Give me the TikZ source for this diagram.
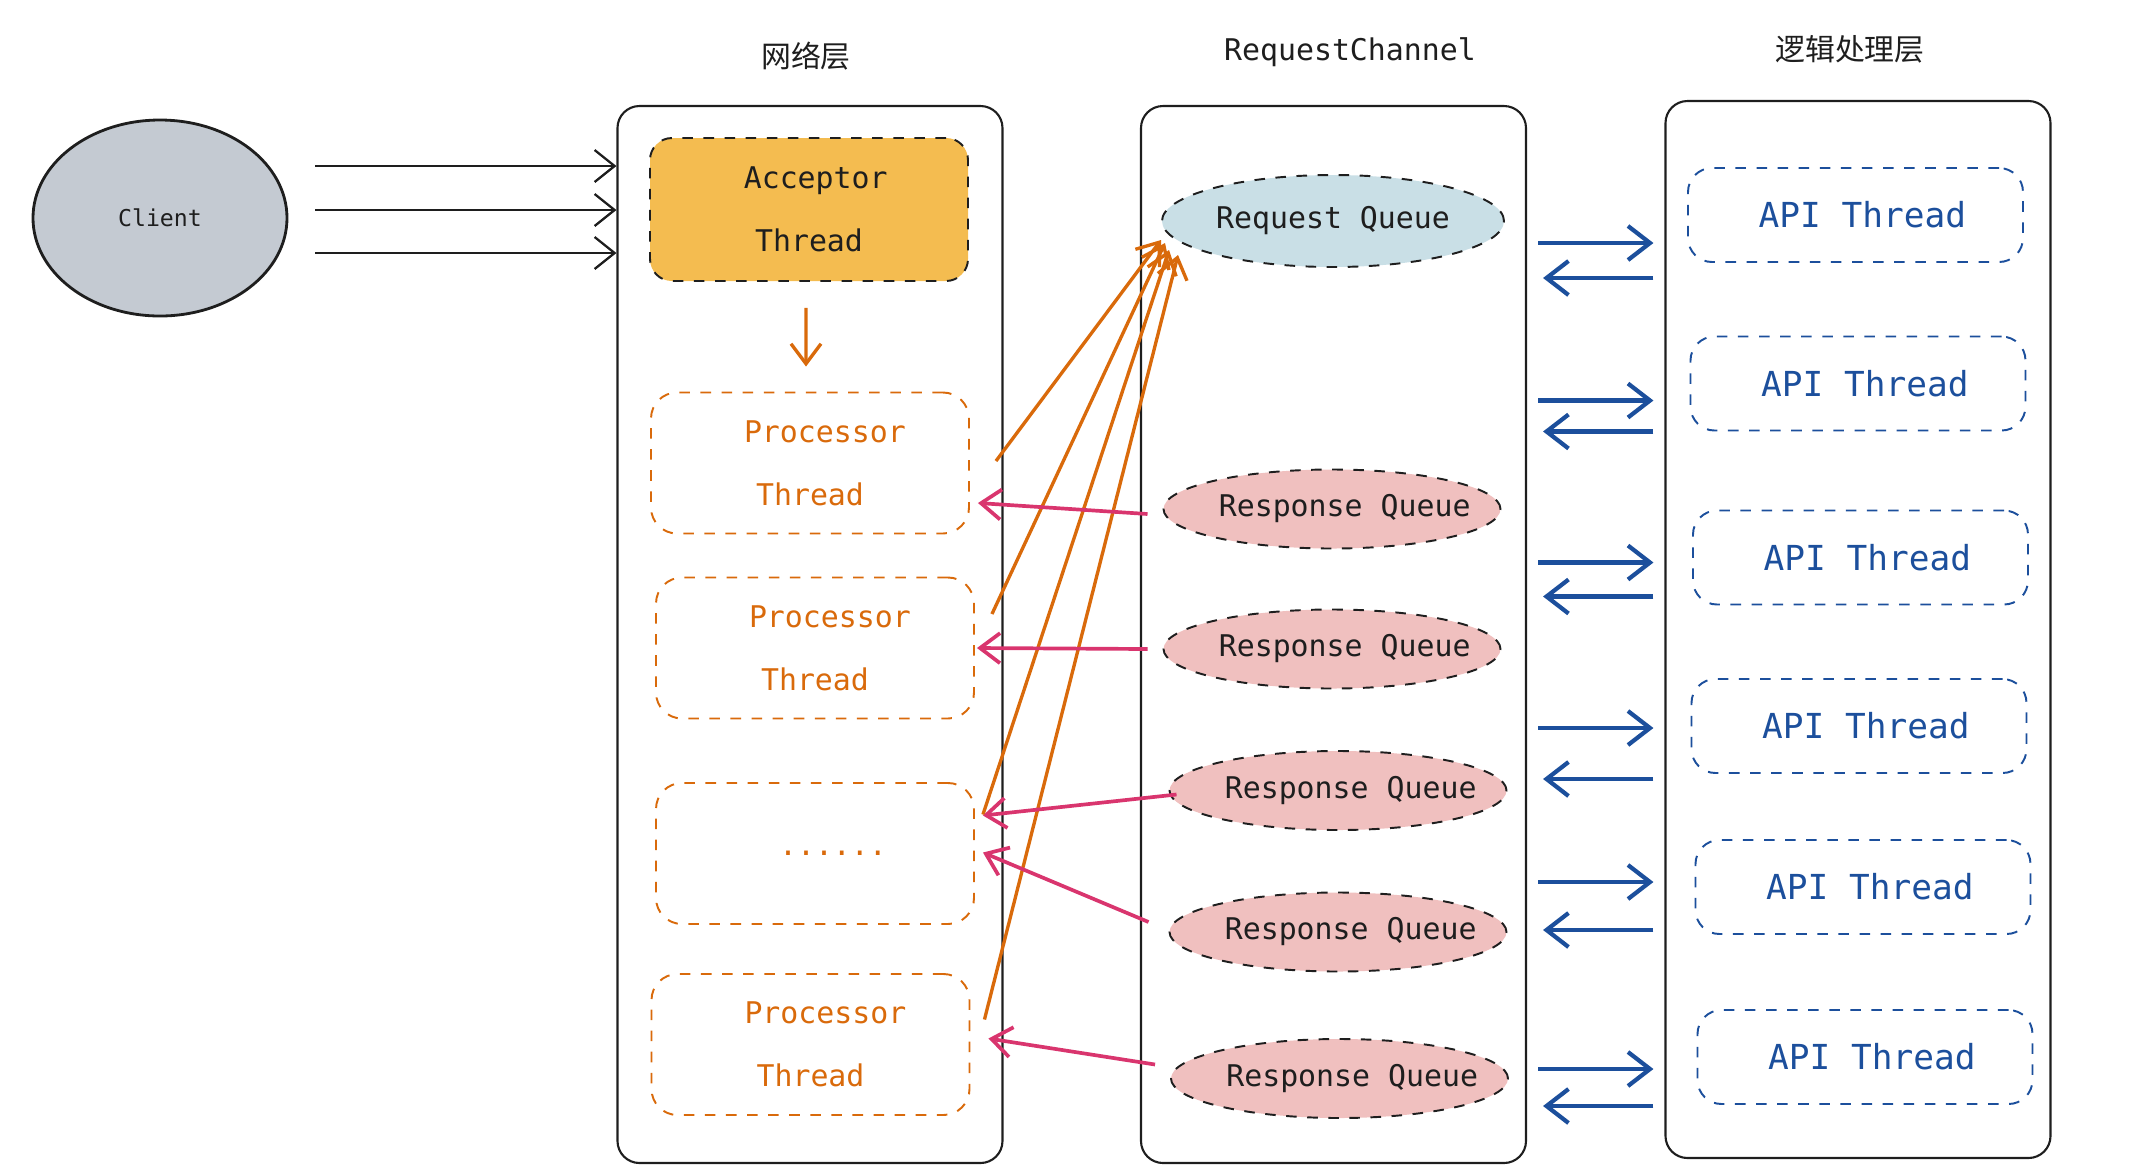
\documentclass[tikz,border=0pt]{standalone}
\usepackage{fontspec}
\usepackage{tikz}
\usepackage{xcolor}
\setmonofont{DejaVu Sans Mono}
\newfontfamily\cjkfont{Noto Sans CJK SC}
\usetikzlibrary{arrows.meta,positioning,shapes.geometric,calc}
\definecolor{ink}{HTML}{1E1E1E}
\definecolor{clientgray}{HTML}{C4CAD2}
\definecolor{accfill}{HTML}{F4BC50}
\definecolor{procorange}{HTML}{D96A0B}
\definecolor{reqfill}{HTML}{C9DFE6}
\definecolor{respfill}{HTML}{F0C0BF}
\definecolor{retpink}{HTML}{D9356E}
\definecolor{apiblue}{HTML}{1C4F9C}
\tikzset{
  layer/.style={draw=ink,line width=0.6pt,rounded corners=2.2mm,
                minimum width=3.85cm,minimum height=10.57cm,inner sep=0pt},
  layertitle/.style={text=ink,font=\fontsize{8.5}{10}\selectfont},
  acceptor/.style={draw=ink,fill=accfill,dashed,line width=0.55pt,
                   rounded corners=2.2mm,minimum width=3.18cm,minimum height=1.43cm,
                   align=center,text=ink,font=\ttfamily\fontsize{8.5}{18}\selectfont},
  procbox/.style={draw=procorange,dashed,line width=0.55pt,rounded corners=2.6mm,
                  minimum width=3.18cm,minimum height=1.41cm,align=center,
                  text=procorange,font=\ttfamily\fontsize{8.5}{18}\selectfont},
  apibox/.style={draw=apiblue,dashed,line width=0.55pt,rounded corners=2.4mm,
                 minimum width=3.35cm,minimum height=0.94cm,
                 text=apiblue,font=\ttfamily\fontsize{9.8}{12}\selectfont},
  queue/.style={ellipse,draw=ink,dashed,line width=0.55pt,inner ysep=0pt,
                inner xsep=-1.95mm,minimum width=3.37cm,minimum height=0.79cm,
                text=ink,font=\ttfamily\fontsize{8.5}{10}\selectfont},
  inkarr/.style={-{Straight Barb[length=2mm,width=3.2mm]},line width=0.65pt,draw=ink},
  orangearr/.style={-{Straight Barb[length=2mm,width=3mm]},line width=0.95pt,
                    draw=procorange},
  pinkarr/.style={-{Straight Barb[length=2mm,width=3mm]},line width=1.05pt,
                  draw=retpink},
  bluearr/.style={-{Straight Barb[length=2.2mm,width=3.4mm]},line width=1.2pt,
                  draw=apiblue}
}
\newcommand{\resp}{\hspace*{0.85em}Response Queue}
\newcommand{\apith}{\hspace*{0.4em}API Thread}
\begin{document}
\begin{tikzpicture}[x=1cm,y=1cm]
    \path[use as bounding box] (0,0) rectangle (21.38,-11.74);

    % client
    \node[ellipse,draw=ink,fill=clientgray,line width=0.8pt,minimum width=2.54cm,
          minimum height=1.96cm,font=\ttfamily\fontsize{6.6}{8}\selectfont,text=ink]
      (client) at (1.60,-2.18) {Client};

    % three layers
    \node[layer] (net) at (8.10,-6.345) {};
    \node[layer] (chan) at (13.335,-6.345) {};
    \node[layer] (logic) at (18.58,-6.295) {};
    \node[layertitle] (nettitle) at (8.06,-0.56) {\cjkfont 网络层};
    \node[layertitle,font=\ttfamily\fontsize{8.5}{10}\selectfont] (chantitle)
      at (13.50,-0.52) {RequestChannel};
    \node[layertitle] (logictitle) at (18.50,-0.49) {\cjkfont 逻辑处理层};

    % network layer threads
    \node[acceptor] (acc) at (8.09,-2.095) {\hspace*{0.45em}Acceptor\\Thread};
    \node[procbox] (p1) at (8.10,-4.63) {\hspace*{1em}Processor\\Thread};
    \node[procbox] (p2) at (8.15,-6.48) {\hspace*{1em}Processor\\Thread};
    \node[procbox] (dots) at (8.15,-8.535) {\ \ ......};
    \node[procbox] (p4) at (8.105,-10.445) {\hspace*{1em}Processor\\Thread};

    % request channel queues
    \node[queue,fill=reqfill,minimum width=3.42cm,minimum height=0.92cm] (rq)
      at (13.33,-2.21) {Request Queue};
    \node[queue,fill=respfill] (r1) at (13.32,-5.09) {\resp};
    \node[queue,fill=respfill] (r2) at (13.32,-6.49) {\resp};
    \node[queue,fill=respfill] (r3) at (13.38,-7.905) {\resp};
    \node[queue,fill=respfill] (r4) at (13.38,-9.32) {\resp};
    \node[queue,fill=respfill] (r5) at (13.395,-10.785) {\resp};

    % api threads
    \node[apibox] (a1) at (18.555,-2.15) {\apith};
    \node[apibox] (a2) at (18.58,-3.835) {\apith};
    \node[apibox] (a3) at (18.605,-5.575) {\apith};
    \node[apibox] (a4) at (18.59,-7.26) {\apith};
    \node[apibox] (a5) at (18.63,-8.87) {\apith};
    \node[apibox] (a6) at (18.65,-10.57) {\apith};

    % client to acceptor
    \foreach \dy in {0.52,0.08,-0.35}
      \draw[inkarr] ($(client.east)+(0.27,\dy)$) -- ($(net.west |- client.east)+(0,\dy)$);

    \draw[orangearr] ([xshift=-0.3mm,yshift=-2.6mm]acc.south) -- ([xshift=-0.4mm,yshift=2.5mm]p1.north);

    % processors put requests
    \draw[orangearr] ([shift={(0.26,0.02)}]p1.east) -- ([shift={(0,-0.19)}]rq.west);
    \draw[orangearr] ([shift={(0.17,0.34)}]p2.east) -- ([shift={(0.04,-0.22)}]rq.west);
    \draw[orangearr] ([shift={(0.08,0.39)}]dots.east) -- ([shift={(0.08,-0.29)}]rq.west);
    \draw[orangearr] ([shift={(0.14,0.25)}]p4.east) -- ([shift={(0.17,-0.34)}]rq.west);

    % responses back
    \draw[pinkarr] ([shift={(-0.15,-0.05)}]r1.west) -- ([shift={(0.08,-0.40)}]p1.east);
    \draw[pinkarr] ([shift={(-0.15,0)}]r2.west) -- ([shift={(0.02,0)}]p2.east);
    \draw[pinkarr] ([shift={(0.08,-0.04)}]r3.west) -- ([shift={(0.08,0.38)}]dots.east);
    \draw[pinkarr] ([shift={(-0.20,0.10)}]r4.west) -- ([shift={(0.08,0.01)}]dots.east);
    \draw[pinkarr] ([shift={(-0.15,0.14)}]r5.west) -- ([shift={(0.18,0.06)}]p4.east);

    % channel <-> api threads
    \foreach \i/\r/\l in {1/-0.28/-0.63,2/-0.17/-0.48,3/-0.05/-0.39,
                          4/-0.02/-0.53,5/0.05/-0.43,6/-0.12/-0.49} {
      \draw[bluearr] ($(chan.east |- a\i)+(0.11,\r)$) -- ($(logic.west |- a\i)+(-0.11,\r)$);
      \draw[bluearr] ($(logic.west |- a\i)+(-0.11,\l)$) -- ($(chan.east |- a\i)+(0.16,\l)$);
    }
\end{tikzpicture}
\end{document}
